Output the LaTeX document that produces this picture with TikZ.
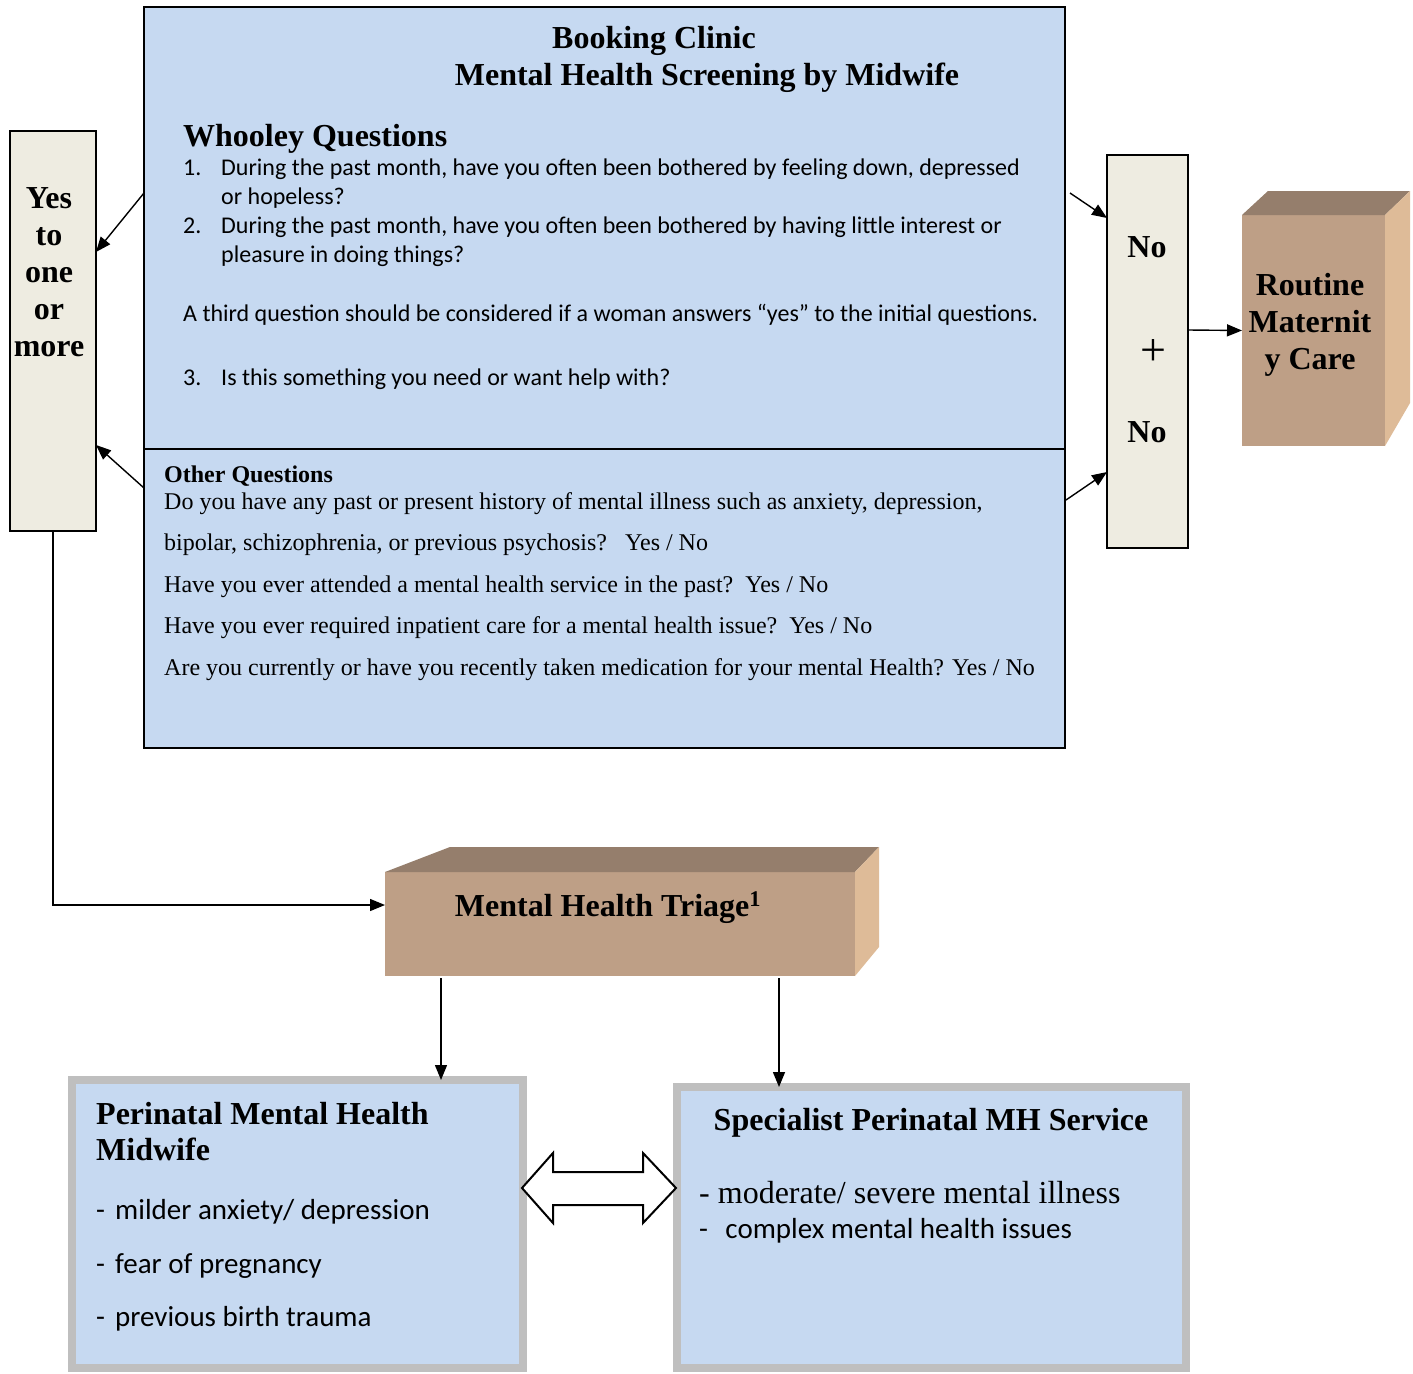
\documentclass[tikz,border=0pt]{standalone}
\usepackage{fontspec}
\setmainfont{Liberation Serif}
\newfontfamily\calfont{Carlito}
\usetikzlibrary{arrows.meta,calc}
\definecolor{lblue}{HTML}{C6D9F1}
\definecolor{beige}{HTML}{EEECE1}
\definecolor{gborder}{HTML}{BFBFBF}
\definecolor{brfront}{HTML}{BE9F86}
\definecolor{brtop}{HTML}{957E6C}
\definecolor{brside}{HTML}{DEBB98}
\tikzset{
  arr/.style={-{Triangle[length=15pt,width=12pt]}, line width=1.4pt},
  hd/.style={font=\fontsize{32}{37}\selectfont\bfseries, inner sep=0pt},
  cbody/.style={font=\calfont\fontsize{24}{29}\selectfont, inner sep=0pt, anchor=base west},
  tbody/.style={font=\fontsize{24}{29}\selectfont, inner sep=0pt, anchor=base west},
  cbig/.style={font=\calfont\fontsize{29}{35}\selectfont, inner sep=0pt, anchor=base west},
  tbig/.style={font=\fontsize{32}{37}\selectfont, inner sep=0pt, anchor=base west},
  bluebox/.style={draw=black, fill=lblue, line width=2pt, anchor=north west, inner sep=0pt, outer sep=0pt},
  beigebox/.style={draw=black, fill=beige, line width=2pt, anchor=north west, inner sep=0pt, outer sep=0pt},
  graybox/.style={draw=gborder, fill=lblue, line width=8pt, anchor=north west, inner sep=0pt, outer sep=0pt},
  cubefront/.style={fill=brfront, anchor=north west, inner sep=0pt, outer sep=0pt},
}
\begin{document}
\begin{tikzpicture}[x=1pt,y=-1pt]
\useasboundingbox[fill=white] (0,0) rectangle (1413,1373);

% main screening box
\node[bluebox, minimum width=921pt, minimum height=442pt] (whooley) at (144,7) {};
\node[bluebox, minimum width=921pt, minimum height=299pt] (other) at (144,449) {};

% side boxes
\node[beigebox, minimum width=86pt, minimum height=400pt] (yes) at (10,131) {};
\node[beigebox, minimum width=81pt, minimum height=393pt] (no) at (1107,155) {};

% routine maternity care cube
\node[cubefront, minimum width=143pt, minimum height=231pt] (routine) at (1242,215) {};
\fill[brtop] (routine.north west) -- (1268,191) -- (1410,191) -- (routine.north east) -- cycle;
\fill[brside] (routine.north east) -- (1410,191) -- (1410,403) -- (routine.south east) -- cycle;

% triage cube
\node[cubefront, minimum width=470pt, minimum height=104pt] (triage) at (385,872) {};
\fill[brtop] (triage.north west) -- (450,847) -- (879,847) -- (triage.north east) -- cycle;
\fill[brside] (triage.north east) -- (879,847) -- (879,947) -- (triage.south east) -- cycle;

% bottom boxes
\node[graybox, minimum width=451pt, minimum height=288pt] (pmh) at (72,1080) {};
\node[graybox, minimum width=509pt, minimum height=281pt] (spec) at (677,1087) {};

% texts main box
\node[hd, anchor=base] (t1) at (654,48) {Booking Clinic};
\node[hd, anchor=base] (t2) at (707,85) {Mental Health Screening by Midwife};
\node[hd, anchor=base west] (wq) at (183,146) {Whooley Questions};
\node[cbody] (n1) at (183,175) {1.};
\node[cbody] (q1a) at (221,175) {During the past month, have you often been bothered by feeling down, depressed};
\node[cbody] (q1b) at (221,204) {or hopeless?};
\node[cbody] (n2) at (183,233) {2.};
\node[cbody] (q2a) at (221,233) {During the past month, have you often been bothered by having little interest or};
\node[cbody] (q2b) at (221,262) {pleasure in doing things?};
\node[cbody] (q3i) at (183,321) {A third question should be considered if a woman answers “yes” to the initial questions.};
\node[cbody] (n3) at (183,385) {3.};
\node[cbody] (q3) at (221,385) {Is this something you need or want help with?};

\node[tbody, font=\fontsize{24}{29}\selectfont\bfseries] (oq) at (164,482) {Other Questions};
\node[tbody] (o1) at (164,509) {Do you have any past or present history of mental illness such as anxiety, depression,};
\node[tbody] (o2) at (164,550) {bipolar, schizophrenia, or previous psychosis?\hspace{0.75em}Yes / No};
\node[tbody] (o3) at (164,592) {Have you ever attended a mental health service in the past?\hspace{0.5em}Yes / No};
\node[tbody] (o4) at (164,633) {Have you ever required inpatient care for a mental health issue?\hspace{0.5em}Yes / No};
\node[tbody] (o5) at (164,675) {Are you currently or have you recently taken medication for your mental Health? Yes / No};

% side texts
\node[hd, align=center, anchor=north] (yestxt) at (49,187) {Yes\\to\\one\\or\\more};
\node[hd] (no1) at (1147,247) {No};
\node[inner sep=0pt, font=\fontsize{46}{46}\selectfont] (plus) at (1153,353) {+};
\node[hd] (no2) at (1147,432) {No};
\node[hd, align=center] (rtxt) at (1310,325) {Routine\\Maternit\\y Care};

% triage text
\node[hd, anchor=base] (trtxt) at (608,916) {Mental Health Triage\textsuperscript{1}};

% bottom left texts
\node[hd, anchor=base west] (p1) at (96,1124) {Perinatal Mental Health};
\node[hd, anchor=base west] (p2) at (96,1160) {Midwife};
\node[cbig] (pa) at (96,1219) {-\hspace{0.35em}milder anxiety/ depression};
\node[cbig] (pb) at (96,1273) {-\hspace{0.35em}fear of pregnancy};
\node[cbig] (pc) at (96,1326) {-\hspace{0.35em}previous birth trauma};

% bottom right texts
\node[hd, anchor=base] (s1) at (931,1130) {Specialist Perinatal MH Service};
\node[tbig] (sa) at (699,1203) {- moderate/ severe mental illness};
\node[cbig] (sb) at (699,1238) {-\hspace{0.6em}complex mental health issues};

% connectors
\draw[arr] ($(whooley.north west)+(0,186)$) -- ($(yes.north east)+(0,121)$);
\draw[arr] ($(other.north west)+(0,39)$) -- ($(yes.south east)+(0,-86)$);
\draw[arr] ($(whooley.north east)+(5,186)$) -- ($(no.north west)+(0,63)$);
\draw[arr] ($(other.north east)+(1,51)$) -- ($(no.south west)+(0,-76)$);
\draw[arr] ($(no.north east)+(0,175)$) -- (routine.west);
\coordinate (tin) at ($(triage.north west)+(0,33)$);
\draw[arr] (yes.south) |- (tin);
\coordinate (ta) at ($(triage.south west)+(56,2)$);
\coordinate (tb) at ($(triage.south west)+(394,2)$);
\draw[arr] (ta) -- (ta |- pmh.north);
\draw[arr] (tb) -- (tb |- spec.north);

% double arrow between bottom boxes
\coordinate (dl) at ($(pmh.north east)+(-1,108)$);
\coordinate (dr) at ($(spec.north west)+(-1,101)$);
\draw[fill=white, line width=2pt, line join=miter] (dl) -- ($(dl)+(31,-35)$) -- ($(dl)+(31,-16)$)
  -- ($(dr)+(-33,-16)$) -- ($(dr)+(-33,-35)$) -- (dr) -- ($(dr)+(-33,35)$) -- ($(dr)+(-33,17)$)
  -- ($(dl)+(31,17)$) -- ($(dl)+(31,35)$) -- cycle;
\end{tikzpicture}
\end{document}
